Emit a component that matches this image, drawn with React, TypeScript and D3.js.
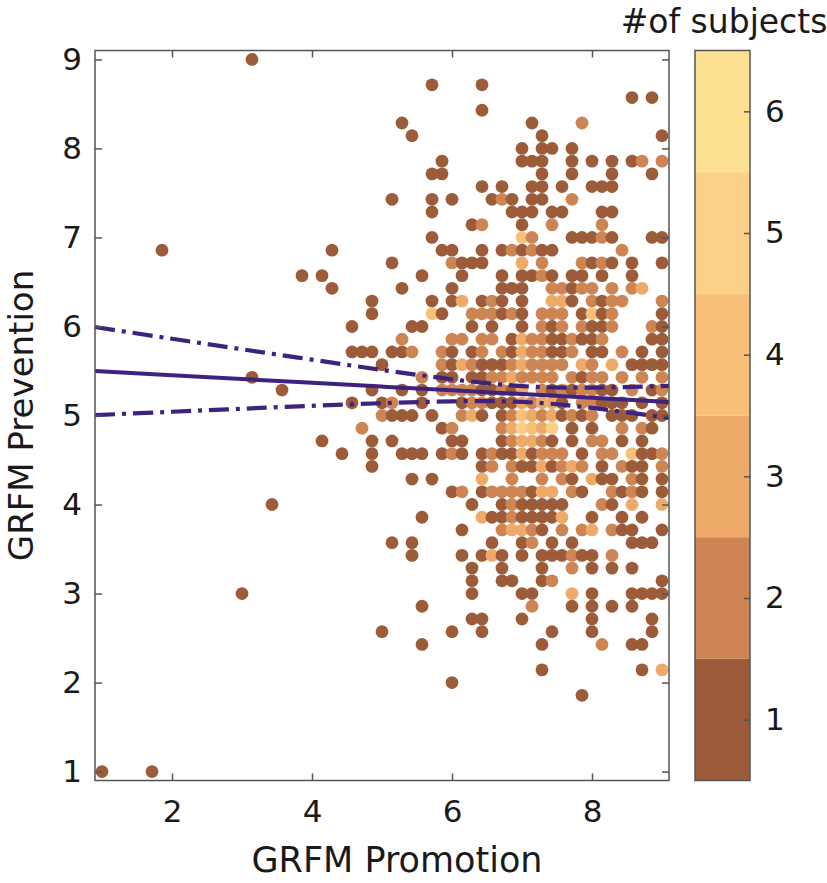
import React, { useEffect, useRef } from 'react';
import * as d3 from 'd3';

const WIDTH = 827;
const HEIGHT = 883;

// axis ticks
const xTicks = [2, 4, 6, 8];
const yTicks = [1, 2, 3, 4, 5, 6, 7, 8, 9];

// colour bar: number of subjects at each grid position
const countLevels = [1, 2, 3, 4, 5, 6];
const countColors = ['#9c5b39', '#cd8554', '#eeaa68', '#f9c07a', '#fccf88', '#fde193'];

// regression fit and confidence bounds
const fitX = [0.9, 2, 3, 4, 5, 6, 7, 8, 9.1];
const fitY = [5.5, 5.452, 5.41, 5.368, 5.325, 5.283, 5.241, 5.199, 5.152];
const upperCI = [5.994, 5.862, 5.744, 5.627, 5.512, 5.407, 5.33, 5.313, 5.332];
const lowerCI = [5.004, 5.042, 5.076, 5.109, 5.138, 5.159, 5.152, 5.085, 4.972];

// scores come in steps of 1/7: row = (prevention - 1) * 7, column = (promotion - 1) * 7
// "col" or "col:count"
const gridRows: [number, string][] = [
  [56, '15'],
  [54, '33 38'],
  [53, '53 55'],
  [52, '38'],
  [51, '30 43 48:2'],
  [50, '31 44 56'],
  [49, '42 44 45 47'],
  [48, '34 42 43 44 47 49 51 53 54:2 56:2'],
  [47, '33 34 44 47 51 55'],
  [46, '38 40 43 44 46 49 50 51'],
  [45, '29 33 35 39 40:2 41 43 44 47:2'],
  [44, '33 41 42 43 45 46 50 51'],
  [43, '37 38:2 42 45:2 50:2'],
  [42, '33 42:4 43:2 47 48 49 50:2 51 55 56'],
  [41, '6 23 34 35 38 40 41:2 42 43:2 44 45 52:2'],
  [40, '29 35:2 36 37 38 42:3 44:2 48:2 49 50:2 51 53 56'],
  [39, '20 22 32 36 40 42 43 44:2 45 47 48 50 53'],
  [38, '23 30 35 40 41 42 45:2 46:2 47 48:2 49:2 51:2 53:2 54:3'],
  [37, '27 33 35 36:3 38 39:2 40 42 45:3 46:3 47 49:2 50 51:2 52:2 56:2'],
  [36, '27 33:4 34 37:2 38:2 39:2 40 41:2 42 44:2 45:2 46:2 48 49:4 50 51:2 56'],
  [35, '25 31 32 37 39 42 44:2 45 46:2 48:2 49 50 51:2 55:2 56'],
  [34, '30:2 35:2 36:2 38:2 39:2 41 42:3 43:2 44:2 45 46 47:2 48 49 50:2 55 56'],
  [33, '25 26 27 29 30 31:2 34:2 35 37 38:2 40:2 41 42:3 43:2 44:2 45 46 47:2 49 50 52:2 54 56'],
  [32, '28 34:2 35 36:3 37:2 38 39 40 41:2 42:3 43:2 44:2 45:2 46:2 48:3 49:2 51:3 53 54 55 56'],
  [31, '15 32:2 34 35 37 38 39:2 40:2 41:3 42:2 43:2 44:2 45:2 47:2 48 49:2 50:2 52:2 54:2 56:2'],
  [30, '18 27 30 32 34:2 35:2 36:2 37:2 38 39 40:2 41 42:3 44:2 45 46:2 47 48:2 49:2 50 51 53:2 55 56:2'],
  [29, '25 28 29:2 32 36 37:2 38:2 39 40 41 42:3 43:2 44:3 45:3 46 48:2 49:2 50 51 52 54 56'],
  [28, '28:2 29 30 31 33 36:2 37:3 38 40 41:2 42:4 43:3 44:2 45:3 46 47:2 48 49:2 51 52 53 55 56'],
  [27, '26:2 34 35:2 40:2 41:3 42:5 43:4 44:3 45:5 47 49 52:2 54:2 55'],
  [26, '22 27 29 35 36 40 41:2 42:3 43:3 44:2 45 47 49:2 50:2 52 54'],
  [25, '24 27 30 31 32 34 35:2 36 38 39:2 40 41 42:3 43 44:2 45:2 46:2 48 50:2 51:2 53:4 54 55 56:2'],
  [24, '27 38 39:2 41:2 42 43 44:3 45 46:2 47:3 48:2 50 52:2 53 54 56:2'],
  [23, '31 33 38:3 41:2 44:2 46:2 47 49:3 50 51 53:2 54 56'],
  [22, '35 36:2 38 39:2 40:2 41:2 42:2 43 44:3 45:3 47:2 48 51:2 52 53:2 54 56'],
  [21, '17 37 40 41:2 42 43 44 45 46 50:2 51 53:3 56:3'],
  [20, '32 38:3 39 40 41:2 42 43 44 45 46:3 49 52 54'],
  [19, '36 40:2 41:3 42:3 43:2 44 46:2 48:2 49:3 51:2 52 53 56'],
  [18, '29 31 39 42 43:2 45 47 53 54 55'],
  [17, '31 36 38 39:3 40 42 44 45 46 47:2 48 49 51:2'],
  [16, '37 40 44 47:2 49 51 53'],
  [15, '37 40 41 44 45:2 56'],
  [14, '14 37 42 43 47:3 49 53 54 55 56'],
  [13, '32 43:2 47 49 51 53'],
  [12, '37 38 42 49 55'],
  [11, '28 35 38 45 49 55'],
  [10, '32 44 50:2 53 54'],
  [8, '44 54 56:3'],
  [7, '35'],
  [6, '48'],
  [0, '0 5'],
];

interface Subject { promotion: number; prevention: number; count: number }

const subjects: Subject[] = gridRows.flatMap(([row, cells]) =>
  cells.split(' ').map((tok) => {
    const [col, cnt] = tok.split(':');
    return { promotion: 1 + +col / 7, prevention: 1 + row / 7, count: cnt ? +cnt : 1 };
  })
);

const FONT = '"DejaVu Sans", sans-serif';
const INK = '#1a1a1a';
const FRAME = '#555';
const LINE = '#3e2280';

const App: React.FC = () => {
  const svgRef = useRef<SVGSVGElement>(null);

  useEffect(() => {
    if (!svgRef.current) return;
    const plot = { left: 95, right: 669, top: 50.5, bottom: 780.5 };
    const bar = { left: 695, right: 750 };

    const svg = d3.select(svgRef.current).html('');

    const x = d3.scaleLinear().domain([0.9, 9.1]).range([plot.left, plot.right]);
    const y = d3.scaleLinear().domain([0.9, 9.1]).range([plot.bottom, plot.top]);
    const yc = d3.scaleLinear().domain([0.5, 6.5]).range([plot.bottom, plot.top]);
    const color = d3.scaleOrdinal<number, string>().domain(countLevels).range(countColors);

    // points
    svg.append('g')
      .selectAll('circle')
      .data(subjects)
      .join('circle')
      .attr('cx', (d) => x(d.promotion))
      .attr('cy', (d) => y(d.prevention))
      .attr('r', 6.4)
      .attr('fill', (d) => color(d.count));

    // fit + confidence bounds
    const fitLine = (vals: number[]) =>
      d3.line<number>()
        .x((_, i) => x(fitX[i]))
        .y((v) => y(v))
        .curve(d3.curveNatural)(vals);

    svg.append('path')
      .attr('d', fitLine(fitY))
      .attr('fill', 'none')
      .attr('stroke', LINE)
      .attr('stroke-width', 4);

    [upperCI, lowerCI].forEach((vals) => {
      svg.append('path')
        .attr('d', fitLine(vals))
        .attr('fill', 'none')
        .attr('stroke', LINE)
        .attr('stroke-width', 4.2)
        .attr('stroke-dasharray', '20 7 4 7');
    });

    // axes frame + ticks (inward on all sides)
    const styleAxis = (g: d3.Selection<SVGGElement, unknown, null, undefined>) => {
      g.select('.domain').remove();
      g.selectAll('line').attr('stroke', FRAME).attr('stroke-width', 1.5);
      g.selectAll('text').style('font-family', FONT).style('font-size', '31px').attr('fill', INK);
    };

    svg.append('g')
      .attr('transform', `translate(0,${plot.bottom})`)
      .call(d3.axisBottom(x).tickValues(xTicks).tickSize(-7).tickPadding(19).tickFormat(d3.format('d')))
      .call(styleAxis);
    svg.append('g')
      .attr('transform', `translate(0,${plot.top})`)
      .call(d3.axisTop(x).tickValues(xTicks).tickSize(-7).tickFormat(() => ''))
      .call(styleAxis);
    svg.append('g')
      .attr('transform', `translate(${plot.left},0)`)
      .call(d3.axisLeft(y).tickValues(yTicks).tickSize(-7).tickPadding(13).tickFormat(d3.format('d')))
      .call(styleAxis);
    svg.append('g')
      .attr('transform', `translate(${plot.right},0)`)
      .call(d3.axisRight(y).tickValues(yTicks).tickSize(-7).tickFormat(() => ''))
      .call(styleAxis);

    svg.append('rect')
      .attr('x', plot.left)
      .attr('y', plot.top)
      .attr('width', plot.right - plot.left)
      .attr('height', plot.bottom - plot.top)
      .attr('fill', 'none')
      .attr('stroke', FRAME)
      .attr('stroke-width', 1.5);

    // axis labels
    svg.append('text')
      .attr('x', 397)
      .attr('y', 872)
      .attr('text-anchor', 'middle')
      .style('font-family', FONT)
      .style('font-size', '35px')
      .attr('fill', INK)
      .text('GRFM Promotion');

    svg.append('text')
      .attr('transform', `translate(33,${(plot.top + plot.bottom) / 2}) rotate(-90)`)
      .attr('text-anchor', 'middle')
      .style('font-family', FONT)
      .style('font-size', '34px')
      .attr('fill', INK)
      .text('GRFM Prevention');

    // colour bar
    const cb = svg.append('g');
    cb.selectAll('rect')
      .data(countLevels)
      .join('rect')
      .attr('x', bar.left)
      .attr('width', bar.right - bar.left)
      .attr('y', (d) => yc(d + 0.5))
      .attr('height', (d) => yc(d - 0.5) - yc(d + 0.5))
      .attr('fill', (d) => color(d));

    cb.append('g')
      .attr('transform', `translate(${bar.right},0)`)
      .call(d3.axisRight(yc).tickValues(countLevels).tickSize(-6).tickPadding(15).tickFormat(d3.format('d')))
      .call(styleAxis);

    cb.append('rect')
      .attr('x', bar.left)
      .attr('y', plot.top)
      .attr('width', bar.right - bar.left)
      .attr('height', plot.bottom - plot.top)
      .attr('fill', 'none')
      .attr('stroke', FRAME)
      .attr('stroke-width', 1.5);

    cb.append('text')
      .attr('x', 724)
      .attr('y', 33)
      .attr('text-anchor', 'middle')
      .style('font-family', FONT)
      .style('font-size', '33px')
      .attr('fill', INK)
      .text('#of subjects');
  }, []);

  return (
    <svg
      ref={svgRef}
      width={WIDTH}
      height={HEIGHT}
      style={{ position: 'absolute', left: 0, top: 0, background: '#fff' }}
    />
  );
};

export default App;
